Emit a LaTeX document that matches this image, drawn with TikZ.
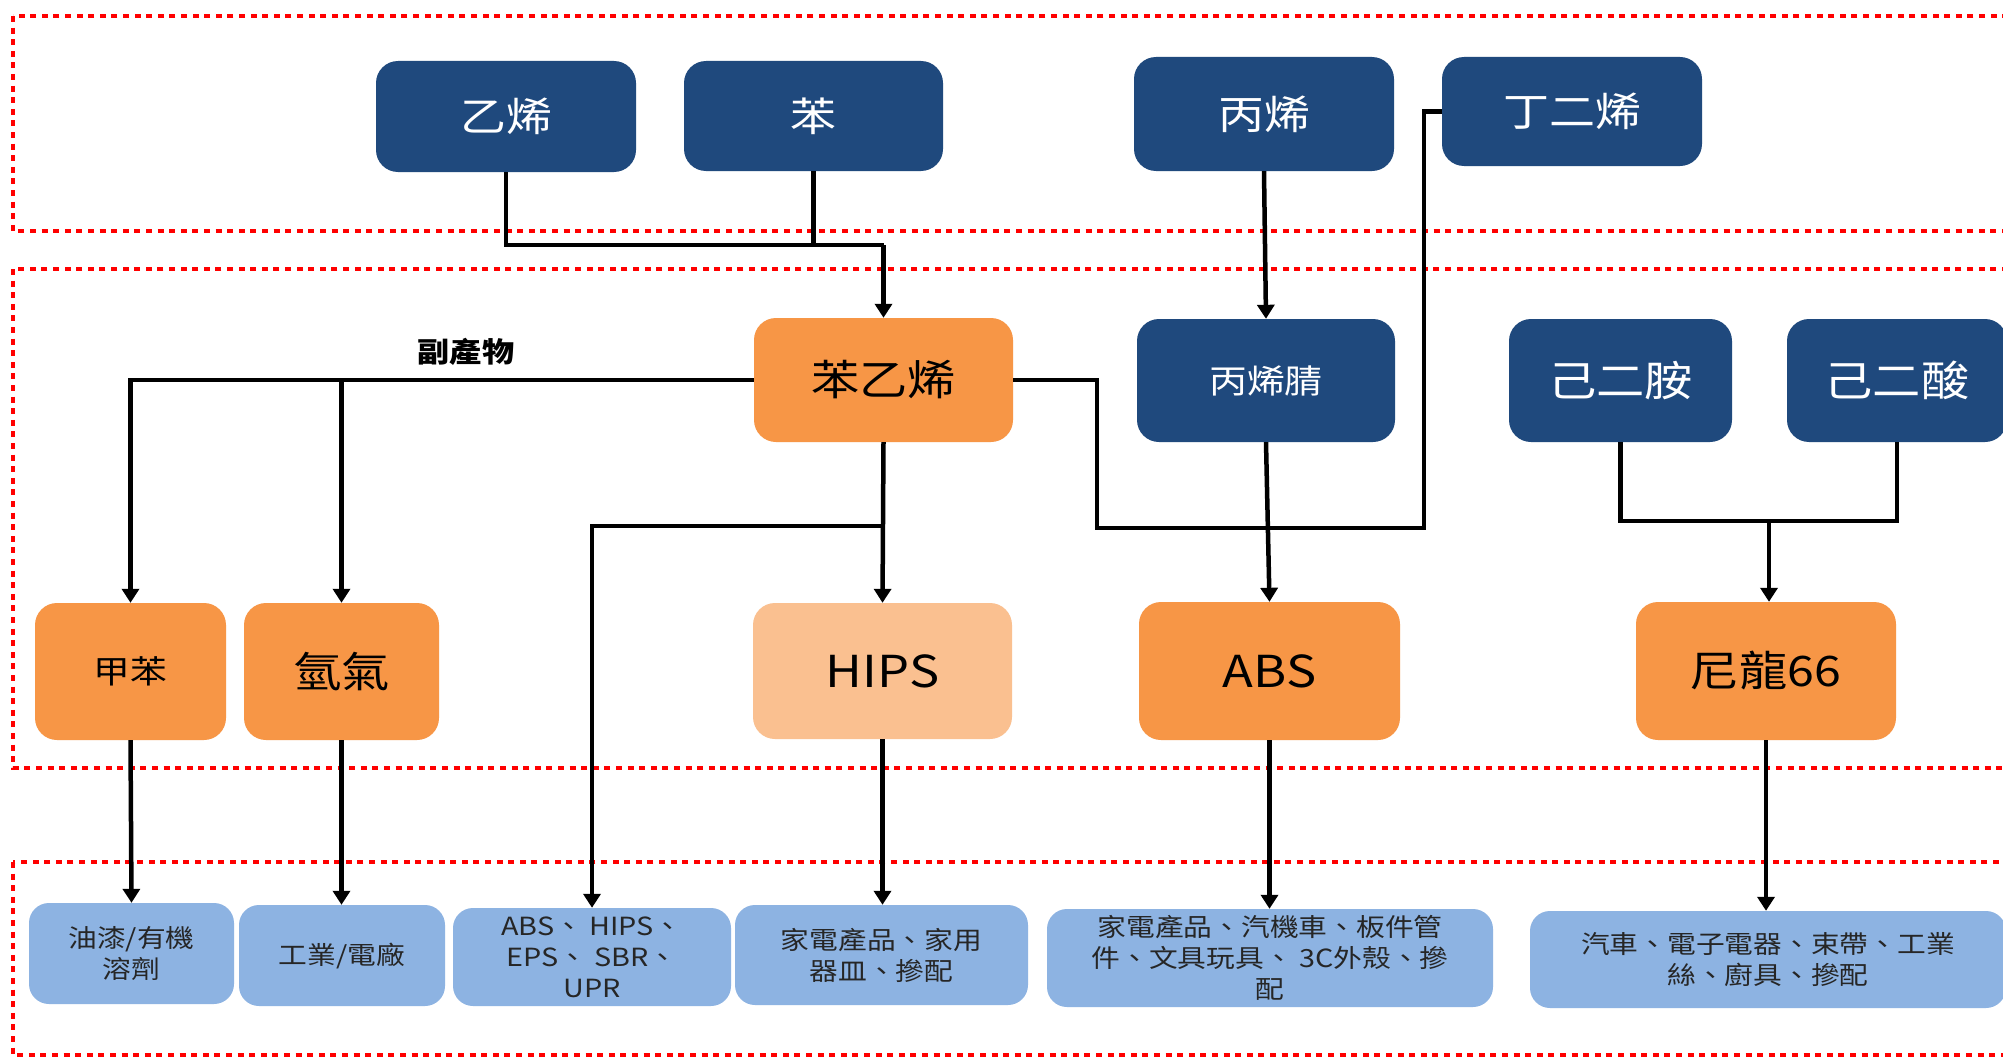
\documentclass[tikz,border=0pt]{standalone}
\usepackage{fontspec}
\setmainfont{Noto Sans CJK TC}[FakeStretch=1.15]
\usetikzlibrary{arrows.meta}
\definecolor{cDark}{HTML}{1F497D}
\definecolor{cOrange}{HTML}{F79646}
\definecolor{cLightO}{HTML}{FAC090}
\definecolor{cBlue}{HTML}{8DB3E2}
\definecolor{cText}{HTML}{262626}
\definecolor{cRed}{HTML}{FF0000}
\newcommand\fntTop{\fontsize{40}{44}\selectfont}
\newcommand\fntMid{\fontsize{42}{46}\selectfont}
\newcommand\fntSml{\fontsize{33}{37}\selectfont}
\newcommand\fntTol{\fontsize{32}{36}\selectfont}
\newcommand\fntLat{\fontsize{44}{48}\selectfont}
\newcommand\fntApp{\fontsize{25}{31}\selectfont}
\newcommand\fntLbl{\fontsize{28}{32}\selectfont\bfseries}
\begin{document}
\begin{tikzpicture}[x=1pt,y=-1pt,
  box/.style={rounded corners=22pt, inner sep=0pt, align=center},
  darkbox/.style={box, fill=cDark, text=white},
  orbox/.style={box, fill=cOrange, text=black},
  ltbox/.style={box, fill=cLightO, text=black},
  appbox/.style={box, fill=cBlue, text=cText, rounded corners=20pt, font=\fntApp},
  ln/.style={line width=4.5pt, draw=black},
  arr/.style={ln, -{Triangle[width=17pt,length=14pt]}},
  reddot/.style={draw=cRed, line width=4pt, dash pattern=on 6pt off 5.6pt},
]
\useasboundingbox (0,0) rectangle (2003,1057);
\clip (0,0) rectangle (2003,1057);
\fill[white] (0,0) rectangle (2003,1057);

% section frames
\draw[reddot] (13,16) rectangle (2060,231);
\draw[reddot] (13,269) rectangle (2060,768);
\draw[reddot] (13,862) rectangle (2060,1055);

% top row
\node[darkbox, minimum width=260pt, minimum height=111pt, font=\fntTop] (yixi) at (506,116.5) {乙烯};
\node[darkbox, minimum width=259pt, minimum height=110pt, font=\fntTop] (ben) at (813.5,116) {苯};
\node[darkbox, minimum width=260pt, minimum height=114pt, font=\fntTop] (bingxi) at (1264,114) {丙烯};
\node[darkbox, minimum width=260pt, minimum height=109pt, font=\fntTop] (dingerxi) at (1572,111.5) {丁二烯};

% middle row
\node[orbox, minimum width=259pt, minimum height=124pt, font=\fntMid] (styrene) at (883.5,380) {苯乙烯};
\node[darkbox, minimum width=258pt, minimum height=123pt, font=\fntSml] (acn) at (1266,380.5) {丙烯腈};
\node[darkbox, minimum width=223pt, minimum height=123pt, font=\fntMid] (hmda) at (1620.5,380.5) {己二胺};
\node[darkbox, minimum width=220pt, minimum height=123pt, font=\fntMid] (adipic) at (1897,380.5) {己二酸};

% product row
\node[orbox, minimum width=191pt, minimum height=137pt, font=\fntTol] (toluene) at (130.5,671.5) {甲苯};
\node[orbox, minimum width=195pt, minimum height=137pt, font=\fntMid] (hydrogen) at (341.5,671.5) {氫氣};
\node[ltbox, minimum width=259pt, minimum height=136pt, font=\fntLat] (hips) at (882.5,671) {HIPS};
\node[orbox, minimum width=261pt, minimum height=138pt, font=\fntLat] (abs) at (1269.5,671) {ABS};
\node[orbox, minimum width=260pt, minimum height=138pt, font=\fntMid] (nylon) at (1766,671) {尼龍66};

% application row
\node[appbox, minimum width=205pt, minimum height=101pt] (b1) at (131.5,953.5) {油漆/有機\\溶劑};
\node[appbox, minimum width=206pt, minimum height=101pt] (b2) at (342,955.5) {工業/電廠};
\node[appbox, minimum width=278pt, minimum height=98pt] (b3) at (592,957) {ABS、 HIPS、\\EPS、 SBR、\\UPR};
\node[appbox, minimum width=293pt, minimum height=100pt] (b4) at (881.5,955) {家電產品、家用\\器皿、摻配};
\node[appbox, minimum width=446pt, minimum height=98pt] (b5) at (1270,958) {家電產品、汽機車、板件管\\件、文具玩具、 3C外殼、摻\\配};
\node[appbox, minimum width=476pt, minimum height=97pt] (b6) at (1768,959.5) {汽車、電子電器、束帶、工業\\絲、廚具、摻配};

% label
\node[font=\fntLbl, text=black, inner sep=0pt] (lbl) at (466,352) {副產物};

% junction coordinates
\coordinate (j1) at (883.5,245);
\coordinate (k1) at (883.5,526);
\coordinate (s2) at (1097,528);
\coordinate (s3) at (1424,528);
\coordinate (n1) at (1769,521);

% ethylene + benzene -> styrene
\draw[ln] (yixi.south) |- (j1);
\draw[ln] (ben.south) -- (ben.south |- j1);
\draw[arr] (j1) -- (styrene.north);

% by-products
\draw[arr] (styrene.west) -| (toluene.north);
\draw[arr] (hydrogen.north |- styrene.west) -- (hydrogen.north);

% styrene -> HIPS and other
\draw[arr] (styrene.south) -- (hips.north);
\draw[arr] (k1) -| (b3.north);

% styrene + butadiene -> ABS
\draw[ln] (styrene.east) -- (styrene.east -| s2) -- (s2) -- (s3) -- (s3 |- dingerxi.west) -- (dingerxi.west);

% propylene -> acrylonitrile -> ABS
\draw[arr] (bingxi.south) -- (acn.north);
\draw[arr] (acn.south) -- (abs.north);

% nylon
\draw[ln] (hmda.south) |- (n1);
\draw[ln] (adipic.south) |- (n1);
\draw[arr] (n1) -- (n1 |- nylon.north);

% to applications
\draw[arr] (toluene.south) -- (b1.north);
\draw[arr] (hydrogen.south) -- (hydrogen.south |- b2.north);
\draw[arr] (hips.south) -- (hips.south |- b4.north);
\draw[arr] (abs.south) -- (abs.south |- b5.north);
\draw[arr] (nylon.south) -- (nylon.south |- b6.north);
\end{tikzpicture}
\end{document}
